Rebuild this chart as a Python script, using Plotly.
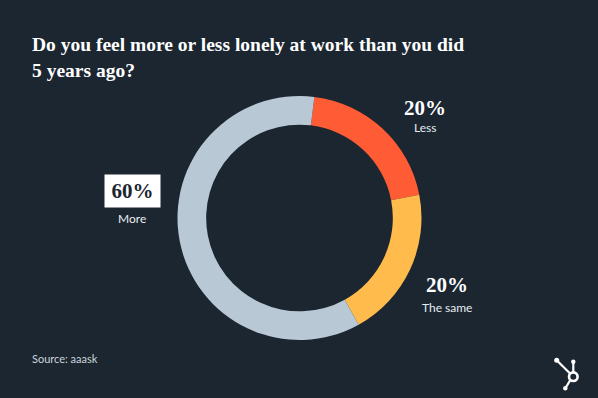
import plotly.graph_objects as go

W, H = 598, 398
BG = "#1b2631"

categories = ["Less", "The same", "More"]
values = [20, 20, 60]
colors = ["#ff5c35", "#ffbb4b", "#b8c8d5"]
pct_labels = ["20%", "20%", "60%"]

title_lines = ["Do you feel more or less lonely at work than you did", "5 years ago?"]
source_text = "Source: aaask"

def px(x):
    return x / W

def py(y):
    return 1 - y / H

cx, cy, r = 299.5, 218, 122

fig = go.Figure(go.Pie(
    labels=categories, values=values,
    marker=dict(colors=colors, line=dict(width=0)),
    hole=0.765, sort=False, direction="clockwise", rotation=7,
    textinfo="none", hoverinfo="skip", showlegend=False,
    domain=dict(x=[px(cx - r), px(cx + r)], y=[py(cy + r), py(cy - r)]),
))

ann = []
for i, line in enumerate(title_lines):
    ann.append(dict(x=px(30), y=py(44 + 26 * i), text="<b>" + line + "</b>", showarrow=False,
                    xanchor="left", yanchor="middle", xref="paper", yref="paper",
                    font=dict(family="Liberation Serif", size=19.5, color="white")))
pct_pos = [(425, 108), (447, 285), (132, 191)]
name_pos = [(425, 127), (447, 307), (132, 218)]
for i in range(3):
    is_box = categories[i] == "More"
    d = dict(x=px(pct_pos[i][0]), y=py(pct_pos[i][1]), text="<b>" + pct_labels[i] + "</b>",
             showarrow=False, xanchor="center", yanchor="middle",
             xref="paper", yref="paper",
             font=dict(family="Liberation Serif", size=21,
                       color=BG if is_box else "white"))
    if is_box:
        d.update(bgcolor="white", width=53, height=30)
    ann.append(d)
    ann.append(dict(x=px(name_pos[i][0]), y=py(name_pos[i][1]), text=categories[i],
                    showarrow=False, xanchor="center", yanchor="middle",
                    xref="paper", yref="paper",
                    font=dict(family="Lato", size=12, color="#e8edf2")))
ann.append(dict(x=px(30), y=py(358), text=source_text, showarrow=False,
                xanchor="left", yanchor="middle", xref="paper", yref="paper",
                font=dict(family="Lato", size=11, color="#cdd5dc")))

# HubSpot sprocket logo (decoration)
shapes = []
lc = "white"
ring = (573.3, 376.7)
def circle(x, y, rad, fill=None, lw=0):
    return dict(type="circle", xref="paper", yref="paper",
                x0=px(x - rad), x1=px(x + rad), y0=py(y + rad), y1=py(y - rad),
                line=dict(color=lc, width=lw), fillcolor=fill if fill else "rgba(0,0,0,0)")
def seg(x0, y0, x1, y1, w=2.2):
    return dict(type="line", xref="paper", yref="paper",
                x0=px(x0), y0=py(y0), x1=px(x1), y1=py(y1),
                line=dict(color=lc, width=w))
shapes.append(seg(556.7, 360.3, ring[0] - 3, ring[1] - 3))
shapes.append(seg(573.3, 362, 573.3, ring[1] - 4.5))
shapes.append(seg(565.5, 388, ring[0] - 3, ring[1] + 3.5))
shapes.append(circle(ring[0], ring[1], 4.3, lw=2.6))
shapes.append(circle(556.7, 360.3, 2.5, fill=lc))
shapes.append(circle(573.3, 361.7, 2.2, fill=lc))
shapes.append(circle(565.3, 388.3, 2.2, fill=lc))

fig.update_layout(
    width=W, height=H, margin=dict(l=0, r=0, t=0, b=0),
    paper_bgcolor=BG, plot_bgcolor=BG,
    annotations=ann, shapes=shapes, showlegend=False,
)
fig.write_html("out.html", config={"displayModeBar": False},
               post_script="document.body.style.margin='0';document.body.style.background='" + BG + "';")
